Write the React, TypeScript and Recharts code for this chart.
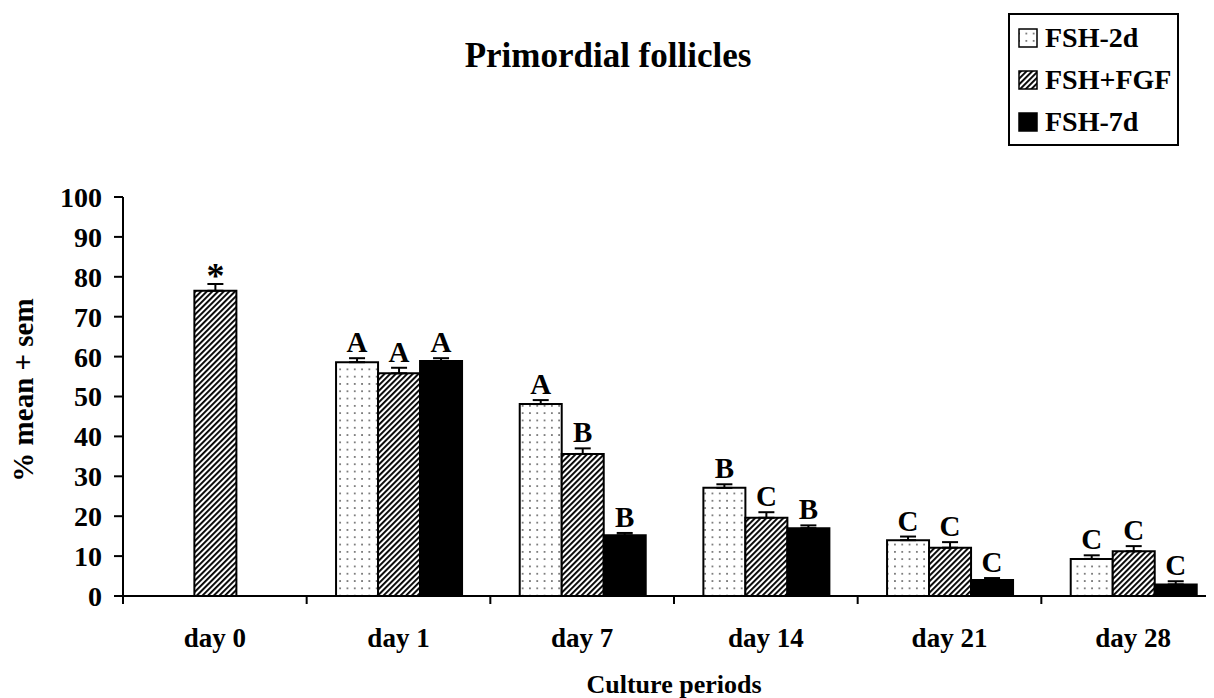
import { Bar, BarChart, ErrorBar, LabelList, XAxis, YAxis } from 'recharts';

// culture periods on the x axis
const days = ['day 0', 'day 1', 'day 7', 'day 14', 'day 21', 'day 28'];
const yTicks = [0, 10, 20, 30, 40, 50, 60, 70, 80, 90, 100];

// % primordial follicles, mean and sem
const fsh2d = [null, 58.6, 48.1, 27.1, 14.0, 9.3];
const fsh2dSem = [null, 1.0, 1.0, 0.9, 0.9, 0.9];
const fsh2dLetters = ['', 'A', 'A', 'B', 'C', 'C'];

const fshFgf = [76.5, 55.8, 35.6, 19.6, 12.1, 11.2];
const fshFgfSem = [1.7, 1.4, 1.4, 1.4, 1.4, 1.3];
const fshFgfLetters = ['*', 'A', 'B', 'C', 'C', 'C'];

const fsh7d = [null, 58.9, 15.2, 17.0, 4.0, 2.9];
const fsh7dSem = [null, 0.7, 0.6, 0.7, 0.5, 0.8];
const fsh7dLetters = ['', 'A', 'B', 'B', 'C', 'C'];

const FONT = '"Liberation Serif", "Times New Roman", serif';
const CHART_W = 1220;
const CHART_H = 690;
const MARGIN = { top: 189, right: 3, left: 0, bottom: 0 };
const Y_AXIS_W = 115;
const BAND = (CHART_W - MARGIN.left - MARGIN.right - Y_AXIS_W) / days.length;

const errPair = (s: number | null) => (s == null ? null : [0, s]);
const tag = (v: number | null, s: number | null, letter: string) =>
    v == null || !letter ? null : { letter, v, s: s ?? 0 };

const data = days.map((day, i) => ({
    day,
    fsh2d: fsh2d[i],
    fsh2dErr: errPair(fsh2dSem[i]),
    fsh2dTag: tag(fsh2d[i], fsh2dSem[i], fsh2dLetters[i]),
    fshFgf: fshFgf[i],
    fshFgfErr: errPair(fshFgfSem[i]),
    fshFgfTag: tag(fshFgf[i], fshFgfSem[i], fshFgfLetters[i]),
    fsh7d: fsh7d[i],
    fsh7dErr: errPair(fsh7dSem[i]),
    fsh7dTag: tag(fsh7d[i], fsh7dSem[i], fsh7dLetters[i]),
}));

// letter above the error bar: px per unit comes from the bar's own height
const Letter = (props: any) => {
    const { x, y, width, height, value } = props;
    if (!value || typeof value !== 'object') return null;
    const pxPerUnit = Number(height) / value.v;
    const star = value.letter === '*';
    return (
        <text
            x={Number(x) + Number(width) / 2}
            y={Number(y) - value.s * pxPerUnit - (star ? -4 : 6)}
            textAnchor="middle"
            fontFamily={FONT}
            fontWeight="bold"
            fontSize={star ? 36 : 29}
            fill="#000"
        >
            {value.letter}
        </text>
    );
};

const DayTick = (props: any) => {
    const { x, y, payload } = props;
    return (
        <g>
            <line x1={x - BAND / 2} x2={x - BAND / 2} y1={y - 8} y2={y} stroke="#000" strokeWidth={2} />
            <text x={x} y={y + 43} textAnchor="middle" fontFamily={FONT} fontWeight="bold" fontSize={27} fill="#000">
                {payload.value}
            </text>
        </g>
    );
};

const legendItems = [
    { name: 'FSH-2d', fill: 'url(#dots)' },
    { name: 'FSH+FGF', fill: 'url(#hatch)' },
    { name: 'FSH-7d', fill: '#000' },
];

export default function App() {
    return (
        <div style={{ position: 'relative', width: 1206, height: 690, overflow: 'hidden', background: '#fff' }}>
            <BarChart
                width={CHART_W}
                height={CHART_H}
                data={data}
                margin={MARGIN}
                barCategoryGap="16%"
                barGap={0}
            >
                <defs>
                    <pattern id="dots" width={7.3} height={7.3} patternUnits="userSpaceOnUse">
                        <rect width={7.3} height={7.3} fill="#fff" />
                        <rect x={3} y={3} width={1.3} height={1.3} fill="#000" />
                    </pattern>
                    <pattern id="hatch" width={4} height={4} patternUnits="userSpaceOnUse" patternTransform="rotate(45)">
                        <rect width={4} height={4} fill="#fff" />
                        <rect width={1.9} height={4} fill="#000" />
                    </pattern>
                </defs>
                <XAxis
                    dataKey="day"
                    height={102}
                    tickLine={false}
                    tickSize={8}
                    tickMargin={0}
                    axisLine={{ stroke: '#000', strokeWidth: 2 }}
                    tick={<DayTick />}
                    interval={0}
                />
                <YAxis
                    width={Y_AXIS_W}
                    domain={[0, 100]}
                    ticks={yTicks}
                    interval={0}
                    tickSize={9}
                    tickMargin={12}
                    axisLine={{ stroke: '#000', strokeWidth: 2 }}
                    tickLine={{ stroke: '#000', strokeWidth: 2 }}
                    tick={{ fill: '#000', fontFamily: FONT, fontWeight: 'bold', fontSize: 28 }}
                />
                <Bar dataKey="fsh2d" name="FSH-2d" fill="url(#dots)" stroke="#000" strokeWidth={2} isAnimationActive={false}>
                    <ErrorBar dataKey="fsh2dErr" direction="y" width={8} stroke="#000" strokeWidth={2} />
                    <LabelList dataKey="fsh2dTag" content={<Letter />} />
                </Bar>
                <Bar dataKey="fshFgf" name="FSH+FGF" fill="url(#hatch)" stroke="#000" strokeWidth={2} isAnimationActive={false}>
                    <ErrorBar dataKey="fshFgfErr" direction="y" width={8} stroke="#000" strokeWidth={2} />
                    <LabelList dataKey="fshFgfTag" content={<Letter />} />
                </Bar>
                <Bar dataKey="fsh7d" name="FSH-7d" fill="#000" stroke="#000" strokeWidth={2} isAnimationActive={false}>
                    <ErrorBar dataKey="fsh7dErr" direction="y" width={8} stroke="#000" strokeWidth={2} />
                    <LabelList dataKey="fsh7dTag" content={<Letter />} />
                </Bar>
            </BarChart>

            {/* title, axis titles and legend box */}
            <svg
                width={1206}
                height={690}
                style={{ position: 'absolute', left: 0, top: 0, pointerEvents: 'none' }}
                fontFamily={FONT}
                fontWeight="bold"
            >
                <text x={600} y={59} textAnchor="middle" fontSize={35} fill="#000">
                    Primordial follicles
                </text>
                <text
                    x={15}
                    y={382}
                    transform="rotate(-90 15 382)"
                    textAnchor="middle"
                    dominantBaseline="central"
                    fontSize={29}
                    fill="#000"
                >
                    % mean + sem
                </text>
                <text x={666} y={685} textAnchor="middle" fontSize={26} fill="#000">
                    Culture periods
                </text>
                <rect x={1001} y={6} width={169} height={131} fill="#fff" stroke="#000" strokeWidth={2} />
                {legendItems.map((item, i) => (
                    <g key={item.name}>
                        <rect x={1011} y={21 + i * 42} width={18} height={18} fill={item.fill} stroke="#000" strokeWidth={1.5} />
                        <text x={1037} y={39 + i * 42} fontSize={28} fill="#000">
                            {item.name}
                        </text>
                    </g>
                ))}
            </svg>
        </div>
    );
}
